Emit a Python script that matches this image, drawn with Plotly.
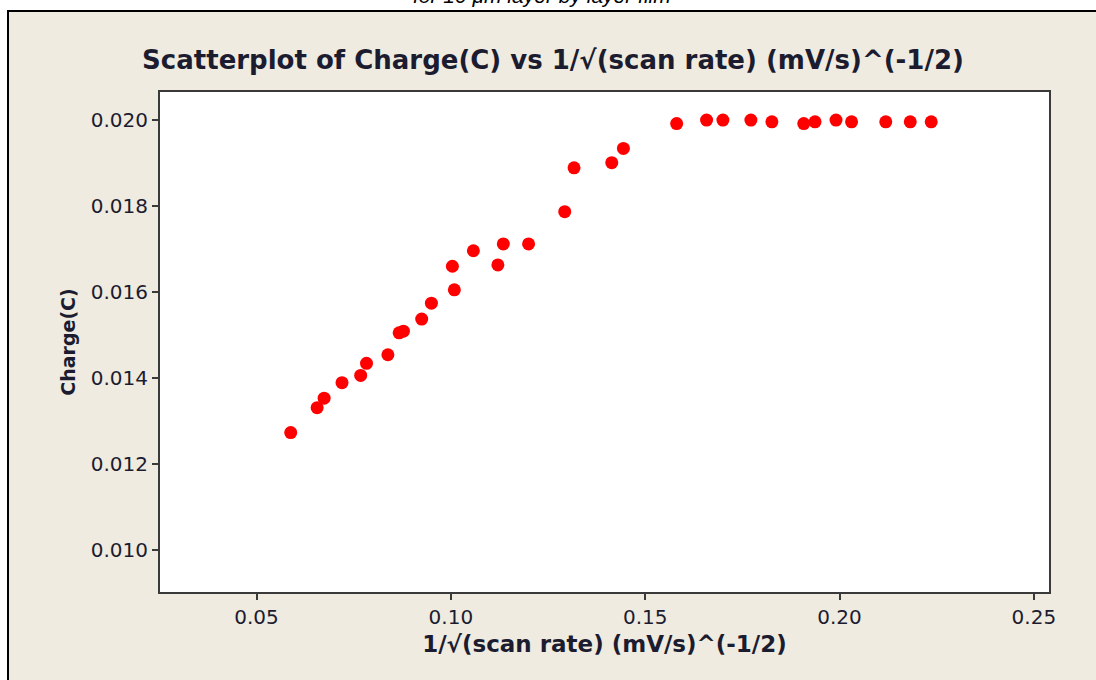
import plotly.graph_objects as go

# Data
inv_sqrt_scan_rate = [0.0588, 0.0656, 0.0674, 0.0720, 0.0768, 0.0783, 0.0838, 0.0867, 0.0878,
                      0.0925, 0.0950, 0.1004, 0.1009, 0.1058, 0.1121, 0.1135, 0.1200, 0.1293,
                      0.1317, 0.1414, 0.1444, 0.1581, 0.1658, 0.1700, 0.1772, 0.1826, 0.1908,
                      0.1937, 0.1991, 0.2031, 0.2119, 0.2182, 0.2236]
charge = [0.01273, 0.01331, 0.01353, 0.01389, 0.01406, 0.01434, 0.01454, 0.01505, 0.01509,
          0.01537, 0.01574, 0.01660, 0.01605, 0.01696, 0.01663, 0.01712, 0.01712, 0.01787,
          0.01889, 0.01901, 0.01934, 0.01992, 0.02000, 0.02000, 0.02000, 0.01996, 0.01992,
          0.01996, 0.02000, 0.01996, 0.01996, 0.01996, 0.01996]
x_ticks = [0.05, 0.10, 0.15, 0.20, 0.25]
y_ticks = [0.010, 0.012, 0.014, 0.016, 0.018, 0.020]

W, H = 1096, 680
L, R, T, B = 160, 1049, 92, 592

def px(x):
    return (x - L) / (R - L)

def py(y):
    return (B - y) / (B - T)

BEIGE = "#EFEBE0"
TXT = "#1c1c30"
FONT = "DejaVu Sans"

fig = go.Figure()
fig.add_trace(go.Scatter(
    x=inv_sqrt_scan_rate, y=charge, mode="markers",
    marker=dict(color="#FF0000", size=13, line=dict(width=0)),
    showlegend=False, hoverinfo="x+y"))

fig.update_layout(
    width=W, height=H,
    margin=dict(l=L, r=W - R, t=T, b=H - B),
    paper_bgcolor=BEIGE, plot_bgcolor="white",
    title=dict(text="<b>Scatterplot of Charge(C) vs 1/√(scan rate) (mV/s)^(-1/2)</b>",
               x=(553) / W, xanchor="center", y=1 - 60 / H, yanchor="middle",
               font=dict(family=FONT, size=26, color=TXT)),
    xaxis=dict(range=[0.02517, 0.2539], tickvals=x_ticks, tickformat=".2f",
               showgrid=False, zeroline=False, showline=True, mirror=True,
               linecolor="#3a3a3a", linewidth=2, ticks="outside", ticklen=6,
               tickwidth=1.5, tickcolor="#3a3a3a",
               tickfont=dict(family=FONT, size=20, color=TXT),
               title=dict(text="<b>1/√(scan rate) (mV/s)^(-1/2)</b>", standoff=8,
                          font=dict(family=FONT, size=23, color=TXT))),
    yaxis=dict(range=[0.00902, 0.020654], tickvals=y_ticks, tickformat=".3f",
               showgrid=False, zeroline=False, showline=True, mirror=True,
               linecolor="#3a3a3a", linewidth=2, ticks="outside", ticklen=6,
               tickwidth=1.5, tickcolor="#3a3a3a",
               tickfont=dict(family=FONT, size=20, color=TXT),
               title=dict(text="<b>Charge(C)</b>", standoff=10,
                          font=dict(family=FONT, size=19, color=TXT))),
    shapes=[
        dict(type="rect", xref="paper", yref="paper", layer="below",
             x0=px(0), x1=px(W), y0=py(10), y1=py(0),
             fillcolor="white", line=dict(width=0)),
        dict(type="rect", xref="paper", yref="paper", layer="below",
             x0=px(0), x1=px(7), y0=py(H), y1=py(0),
             fillcolor="white", line=dict(width=0)),
        dict(type="line", xref="paper", yref="paper",
             x0=px(7), x1=px(W), y0=py(11), y1=py(11),
             line=dict(color="black", width=2)),
        dict(type="line", xref="paper", yref="paper",
             x0=px(8), x1=px(8), y0=py(10), y1=py(H),
             line=dict(color="black", width=2)),
    ],
    annotations=[
        dict(text="<i>for 10 μm layer by layer film</i>", xref="paper", yref="paper",
             x=px(542), y=py(9), xanchor="center", yanchor="bottom", showarrow=False,
             font=dict(family="Liberation Sans", size=21, color="black")),
    ],
)

fig.write_html("out.html")
